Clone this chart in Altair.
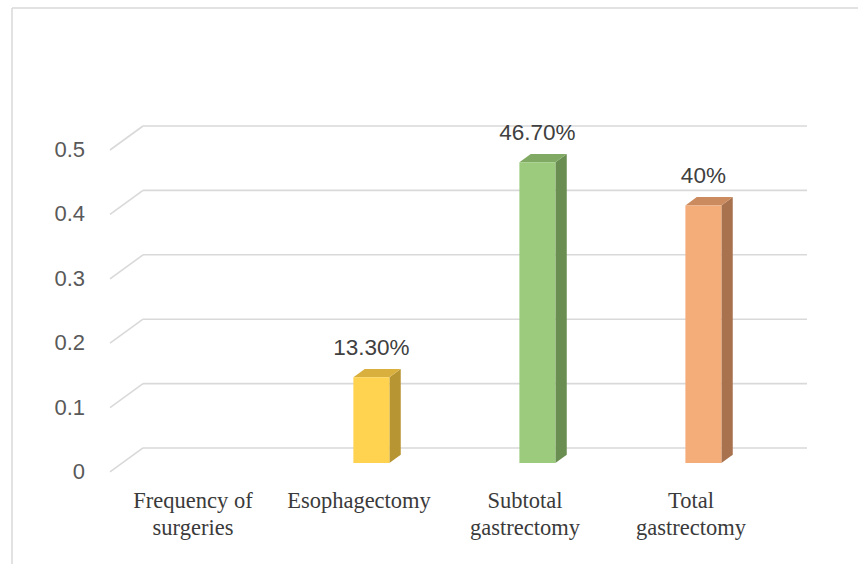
import altair as alt
import pandas as pd

# ---------------- data ----------------
categories = ["Frequency of\nsurgeries", "Esophagectomy", "Subtotal\ngastrectomy", "Total\ngastrectomy"]
values = [None, 0.133, 0.467, 0.40]
value_labels = ["", "13.30%", "46.70%", "40%"]
y_ticks = [0, 0.1, 0.2, 0.3, 0.4, 0.5]
y_tick_labels = ["0", "0.1", "0.2", "0.3", "0.4", "0.5"]
front_colors = [None, "#FFD24F", "#9DCB7E", "#F4AC78"]
top_colors = [None, "#D9AF3E", "#80AA63", "#CB8B5E"]
side_colors = [None, "#B89533", "#6A8E52", "#A8724F"]

# ---------------- 3D geometry (styling) ----------------
DX = 0.1988      # depth shift in category units (full depth)
DY = 0.03727     # depth shift in value units (full depth)
D1, D2 = 0.375, 0.72   # bar front / back depth
HW = 0.1084      # half bar width in category units
LEFT, RIGHT = -0.5, 3.5

xs = alt.Scale(domain=[-1.1627, 4.006], nice=False, zero=False)
ys = alt.Scale(domain=[-0.1429, 0.7329], nice=False, zero=False)

def X(f):
    return alt.X(f, type="quantitative", scale=xs, axis=None)

def Y(f):
    return alt.Y(f, type="quantitative", scale=ys, axis=None)

# gridlines
grid_rows = []
for v in y_ticks:
    grid_rows.append(dict(x1=LEFT, x2=LEFT + DX, y1=v, y2=v + DY))
    grid_rows.append(dict(x1=LEFT + DX, x2=RIGHT + DX, y1=v + DY, y2=v + DY))
grid_df = pd.DataFrame(grid_rows)

front_rows, side_rows, top_rows, lab_rows = [], [], [], []
for i, (c, v) in enumerate(zip(categories, values)):
    if v is None:
        continue
    cx = i + D1 * DX
    front_rows.append(dict(xl=cx - HW, xr=cx + HW, yb=D1 * DY, yt=v + D1 * DY, col=front_colors[i]))
    side_rows.append(dict(cat=c, x=cx + HW, lo=D1 * DY, hi=v + D1 * DY, col=side_colors[i]))
    side_rows.append(dict(cat=c, x=i + D2 * DX + HW, lo=D2 * DY, hi=v + D2 * DY, col=side_colors[i]))
    top_rows.append(dict(cat=c, y=v + D1 * DY, xl=cx - HW, xr=cx + HW, col=top_colors[i]))
    top_rows.append(dict(cat=c, y=v + D2 * DY, xl=i + D2 * DX - HW, xr=i + D2 * DX + HW, col=top_colors[i]))
    lab_rows.append(dict(x=cx, y=v + D2 * DY, t=value_labels[i]))
front_df = pd.DataFrame(front_rows)
side_df = pd.DataFrame(side_rows)
top_df = pd.DataFrame(top_rows)
lab_df = pd.DataFrame(lab_rows)

tick_df = pd.DataFrame(dict(x=[LEFT] * len(y_ticks), y=y_ticks, t=y_tick_labels))
cat_df = pd.DataFrame(dict(x=list(range(len(categories))), y=[0] * len(categories), t=categories))

# ---------------- layers ----------------
grid = alt.Chart(grid_df).mark_rule(color="#D9D9D9", strokeWidth=1.6).encode(
    x=X("x1"), x2="x2", y=Y("y1"), y2="y2")

front = alt.Chart(front_df).mark_rect().encode(
    x=X("xl"), x2="xr", y=Y("yb"), y2="yt", color=alt.Color("col:N", scale=None))

side = alt.Chart(side_df).mark_area().encode(
    x=X("x"), y=Y("lo"), y2="hi", detail="cat:N", color=alt.Color("col:N", scale=None))

top = alt.Chart(top_df).mark_area(orient="horizontal").encode(
    y=Y("y"), x=X("xl"), x2="xr", detail="cat:N", color=alt.Color("col:N", scale=None))

vlabels = alt.Chart(lab_df).mark_text(
    font="Liberation Sans", fontSize=22.5, color="#404040", baseline="bottom", dy=-9
).encode(x=X("x"), y=Y("y"), text="t:N")

ticks = alt.Chart(tick_df).mark_text(
    font="Liberation Sans", fontSize=22, color="#595959", align="right", baseline="middle", dx=-25
).encode(x=X("x"), y=Y("y"), text="t:N")

cats = alt.Chart(cat_df).mark_text(
    font="Liberation Serif", fontSize=22.5, color="#3A3A3A", baseline="top", dy=18,
    lineBreak="\n", lineHeight=27
).encode(x=X("x"), y=Y("y"), text="t:N")

frame_left = alt.Chart(pd.DataFrame({"a": [0]})).mark_rule(color="#D9D9D9", strokeWidth=1.5).encode(
    x=alt.value(12), y=alt.value(8), y2=alt.value(564))
frame_top = alt.Chart(pd.DataFrame({"a": [0]})).mark_rule(color="#D9D9D9", strokeWidth=1.5).encode(
    x=alt.value(12), x2=alt.value(858), y=alt.value(8))

chart = alt.layer(
    frame_left, frame_top, grid, side, top, front, vlabels, ticks, cats
).properties(
    width=858, height=564, autosize=alt.AutoSizeParams(type="none"), padding=0, background="white"
).configure_view(stroke=None)

chart.save("out.html", embed_options={"renderer": "svg", "actions": False})
